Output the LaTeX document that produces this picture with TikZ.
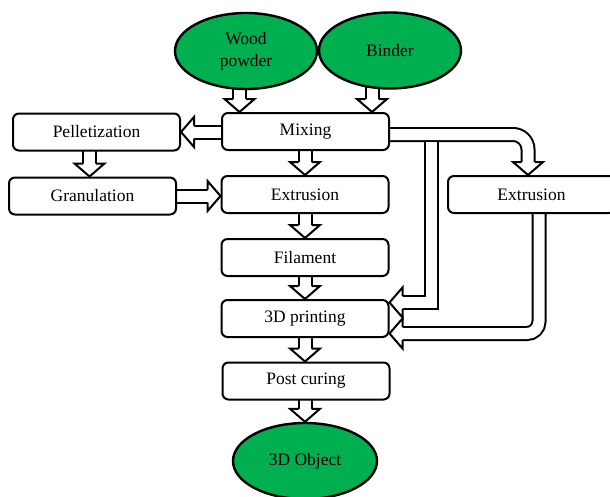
\documentclass[tikz,border=0pt]{standalone}
\usepackage{fontspec}
\setmainfont{Liberation Serif}
\usetikzlibrary{shapes.geometric, backgrounds}
\definecolor{leafgreen}{RGB}{0,176,80}

\tikzset{
  stage/.style={draw, line width=2pt, rounded corners=6pt, fill=white, minimum width=167pt, minimum height=37pt, inner sep=0pt},
  source/.style={ellipse, draw, line width=2.4pt, fill=leafgreen, minimum width=142pt, minimum height=76pt, inner sep=0pt, align=center},
  tube/.style={draw=black, line width=2pt, double=white, double distance=11pt, shorten >=12pt},
  head/.pic={\filldraw[fill=white, line width=2pt, line join=miter] (-13,-6.5) -- (-13,-15) -- (0,0) -- (-13,15) -- (-13,6.5);}
}

\begin{document}
\begin{tikzpicture}[x=1pt, y=-1pt, font=\fontsize{17.5}{22}\selectfont]
\useasboundingbox (0,0) rectangle (610,496);

% raw materials
\node[source] (wood) at (246,51) {Wood\\powder};
\node[source] (binder) at (390,50.5) {Binder};

% process steps
\node[stage] (mix) at (305.5,131.5) {Mixing};
\node[stage] (pel) at (96.5,132) {Pelletization};
\node[stage] (gran) at (92.5,196) {Granulation};
\node[stage] (ext) at (305,194.5) {Extrusion};
\node[stage] (extr) at (531.5,194.5) {Extrusion};
\node[stage] (fil) at (305,257.5) {Filament};
\node[stage] (print) at (305,318.5) {3D printing};
\node[stage] (cure) at (306,381) {Post curing};
\node[source, minimum width=144pt] (obj) at (305,461) {3D Object};

\coordinate (split) at (431,142);

\begin{scope}[on background layer]
% straight flows
\draw[tube] ([xshift=-6.5pt]wood.center) -- ([xshift=-66pt]mix.north);
\pic[rotate=-90] at ([xshift=-66pt]mix.north) {head};
\draw[tube] ([xshift=-18pt]binder.center) -- ([xshift=66.5pt]mix.north);
\pic[rotate=-90] at ([xshift=66.5pt]mix.north) {head};
\draw[tube] (mix -| ext.north) -- (ext.north);
\pic[rotate=-90] at (ext.north) {head};
\draw[tube] (ext) -- (fil.north);
\pic[rotate=-90] at (fil.north) {head};
\draw[tube] (fil) -- (print.north);
\pic[rotate=-90] at (print.north) {head};
\draw[tube] (print) -- (print |- cure.north);
\pic[rotate=-90] at (print |- cure.north) {head};
\draw[tube] (cure -| obj) -- (obj.north);
\pic[rotate=-90] at (obj.north) {head};

\draw[tube] (pel.east -| mix) -- (pel.east);
\pic[rotate=180] at (pel.east) {head};
\draw[tube] ([xshift=-3pt]gran.north |- pel) -- ([xshift=-3pt]gran.north);
\pic[rotate=-90] at ([xshift=-3pt]gran.north) {head};
\draw[tube] (gran) -- (gran -| ext.west);
\pic at (gran -| ext.west) {head};

% side route
\draw[tube, rounded corners=15pt] ([yshift=-3pt]mix.center) -| ([xshift=-3.5pt]extr.north);
\pic[rotate=-90] at ([xshift=-3.5pt]extr.north) {head};
\draw[tube] (split) |- ([yshift=16pt]print.east);
\pic[rotate=180] at ([yshift=16pt]print.east) {head};
\draw[tube, rounded corners=12pt] ([xshift=7.5pt]extr.center) |- ([yshift=-15pt]print.east);
\pic[rotate=180] at ([yshift=-15pt]print.east) {head};
\end{scope}
\end{tikzpicture}
\end{document}
